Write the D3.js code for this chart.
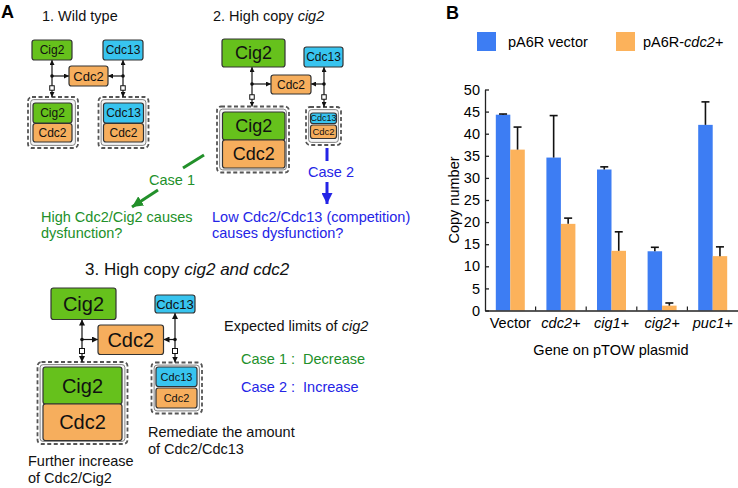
<!DOCTYPE html>
<html><head><meta charset="utf-8">
<script src="https://cdn.jsdelivr.net/npm/d3@7"></script>
<style>
body{margin:0;background:#fff}
svg{display:block;font-family:"Liberation Sans",Arial,Helvetica,sans-serif}
</style>
</head><body>
<svg id="c" width="738" height="488"></svg>
<script>
// ---------- Panel B data ----------
const categories = ["Vector", "cdc2+", "cig1+", "cig2+", "puc1+"];
const categoryItalic = [false, true, true, true, true];
const seriesKeys = ["vector", "cdc2"];
const vectorValues = [44.3, 34.6, 31.9, 13.4, 42.0];
const vectorErrors = [0.15, 9.5, 0.6, 0.9, 5.2];
const cdc2Values = [36.4, 19.6, 13.5, 1.1, 12.3];
const cdc2Errors = [5.1, 1.3, 4.3, 0.6, 2.1];
const yTickValues = [0, 5, 10, 15, 20, 25, 30, 35, 40, 45, 50];

const BLUE = "#3d7df3", ORANGE = "#fcb25b";
const GREEN_BOX = "#66c11c", CYAN_BOX = "#38c4ef", ORANGE_BOX = "#f6ae5d";
const GREEN_TXT = "#22902a", BLUE_TXT = "#2424e6";

const svg = d3.select("#c");

// markers
const defs = svg.append("defs");
function mk(id, size, color) {
  defs.append("marker").attr("id", id)
    .attr("viewBox", "0 0 10 10").attr("refX", 10).attr("refY", 5)
    .attr("markerWidth", size).attr("markerHeight", size)
    .attr("markerUnits", "userSpaceOnUse").attr("orient", "auto-start-reverse")
    .append("path").attr("d", "M0,0L10,5L0,10Z").attr("fill", color);
}
mk("ah", 5, "#111");
mk("ah6", 6, "#111");
mk("ahg", 11, GREEN_TXT);
mk("ahb", 11, BLUE_TXT);

// ---------- Panel B ----------
const gB = svg.append("g");
gB.append("text").attr("x", 446).attr("y", 19).attr("font-size", 18).attr("font-weight", "bold").text("B");

const x0 = d3.scaleBand().domain(categories).range([485, 738]);
const x1 = d3.scaleBand().domain(seriesKeys).range([0, x0.bandwidth()]).paddingOuter(0.745);
const y = d3.scaleLinear().domain([0, 50]).range([310.5, 89.5]);

const rows = categories.map((c, i) => ({
  cat: c,
  bars: [
    { key: "vector", v: vectorValues[i], e: vectorErrors[i], color: BLUE },
    { key: "cdc2", v: cdc2Values[i], e: cdc2Errors[i], color: ORANGE }
  ]
}));

const grp = gB.selectAll("g.grp").data(rows).join("g")
  .attr("transform", d => `translate(${x0(d.cat)},0)`);
grp.selectAll("rect").data(d => d.bars).join("rect")
  .attr("x", d => x1(d.key)).attr("width", x1.bandwidth())
  .attr("y", d => y(d.v)).attr("height", d => y(0) - y(d.v))
  .attr("fill", d => d.color);
// error bars (upper only)
const eb = grp.selectAll("g.eb").data(d => d.bars).join("g");
eb.append("line")
  .attr("x1", d => x1(d.key) + x1.bandwidth() / 2).attr("x2", d => x1(d.key) + x1.bandwidth() / 2)
  .attr("y1", d => y(d.v)).attr("y2", d => y(d.v + d.e))
  .attr("stroke", "#111").attr("stroke-width", 1.6);
eb.append("line")
  .attr("x1", d => x1(d.key) + x1.bandwidth() / 2 - 4).attr("x2", d => x1(d.key) + x1.bandwidth() / 2 + 4)
  .attr("y1", d => y(d.v + d.e)).attr("y2", d => y(d.v + d.e))
  .attr("stroke", "#111").attr("stroke-width", 1.6);

// y axis
const yAxis = gB.append("g").attr("transform", "translate(485,0)")
  .call(d3.axisLeft(y).tickValues(yTickValues).tickSizeInner(-4).tickSizeOuter(0).tickPadding(5));
yAxis.selectAll("text").attr("font-size", 14.5).attr("fill", "#000").attr("font-family", "Liberation Sans, Arial, sans-serif");
yAxis.selectAll("line,path").attr("stroke", "#222").attr("stroke-width", 1.3);

// x axis
const xAxis = gB.append("g").attr("transform", `translate(0,${y(0)})`)
  .call(d3.axisBottom(x0).tickSize(0).tickPadding(7));
xAxis.select("path").attr("stroke", "#222").attr("stroke-width", 1.3);
xAxis.selectAll("text").attr("font-size", 14.5).attr("fill", "#000")
  .attr("font-family", "Liberation Sans, Arial, sans-serif")
  .attr("font-style", (d, i) => categoryItalic[i] ? "italic" : "normal");
gB.selectAll("line.sep").data(categories.slice(1)).join("line")
  .attr("x1", d => x0(d)).attr("x2", d => x0(d))
  .attr("y1", y(0)).attr("y2", y(0) - 4)
  .attr("stroke", "#222").attr("stroke-width", 1.2);

gB.append("text").attr("transform", "translate(459,200) rotate(-90)")
  .attr("text-anchor", "middle").attr("font-size", 14.5).text("Copy number");
gB.append("text").attr("x", 611).attr("y", 355).attr("text-anchor", "middle")
  .attr("font-size", 14.5).text("Gene on pTOW plasmid");

// legend
gB.append("rect").attr("x", 477).attr("y", 32).attr("width", 19).attr("height", 19).attr("fill", BLUE);
gB.append("text").attr("x", 508).attr("y", 46.5).attr("font-size", 14.5).text("pA6R vector");
gB.append("rect").attr("x", 616).attr("y", 32).attr("width", 19).attr("height", 19).attr("fill", ORANGE);
const lt = gB.append("text").attr("x", 643).attr("y", 46.5).attr("font-size", 14.5);
lt.append("tspan").text("pA6R-");
lt.append("tspan").attr("font-style", "italic").text("cdc2+");

// ---------- Panel A (diagram) ----------
const gA = svg.append("g");
gA.append("text").attr("x", 1).attr("y", 18).attr("font-size", 18).attr("font-weight", "bold").text("A");

function box(x, yy, w, h, fill, label, fs) {
  gA.append("rect").attr("x", x).attr("y", yy).attr("width", w).attr("height", h)
    .attr("rx", 2.5).attr("fill", fill).attr("stroke", "#333").attr("stroke-width", 1.2);
  gA.append("text").attr("x", x + w / 2).attr("y", yy + h / 2).attr("dy", "0.36em")
    .attr("text-anchor", "middle").attr("font-size", fs).attr("fill", "#111").text(label);
}
function complex(x, yy, w, h) {
  gA.append("rect").attr("x", x).attr("y", yy).attr("width", w).attr("height", h)
    .attr("rx", 4).attr("fill", "#fff").attr("stroke", "#555").attr("stroke-width", 1.8)
    .attr("stroke-dasharray", "4,2.5");
  gA.append("rect").attr("x", x + 2.6).attr("y", yy + 2.6).attr("width", w - 5.2).attr("height", h - 5.2)
    .attr("rx", 3).attr("fill", "#f4f4f4").attr("stroke", "#666").attr("stroke-width", 0.8);
}
function connector(x, yTop, yBot, yH, edgeX, ySq, marker, sq) {
  gA.append("line").attr("x1", x).attr("x2", x).attr("y1", yTop).attr("y2", yBot)
    .attr("stroke", "#111").attr("stroke-width", 1.2)
    .attr("marker-start", `url(#${marker})`).attr("marker-end", `url(#${marker})`);
  gA.append("line").attr("x1", x).attr("x2", edgeX).attr("y1", yH).attr("y2", yH)
    .attr("stroke", "#111").attr("stroke-width", 1.2).attr("marker-end", `url(#${marker})`);
  gA.append("circle").attr("cx", x).attr("cy", yH).attr("r", 1.8).attr("fill", "#111");
  gA.append("rect").attr("x", x - sq / 2).attr("y", ySq - sq / 2).attr("width", sq).attr("height", sq)
    .attr("fill", "#fff").attr("stroke", "#111").attr("stroke-width", 1);
}
function txt(x, yy, parts, fs, color, anchor) {
  const t = gA.append("text").attr("x", x).attr("y", yy).attr("font-size", fs)
    .attr("fill", color || "#111").attr("text-anchor", anchor || "start")
    .style("white-space", "pre");
  parts.forEach(p => {
    const s = t.append("tspan").text(typeof p === "string" ? p : p.t);
    if (typeof p !== "string" && p.i) s.attr("font-style", "italic");
  });
}

// 1. Wild type
txt(42, 21, ["1. Wild type"], 14.5);
complex(28, 97, 50, 51);
complex(98.5, 97, 50, 51);
connector(52, 60, 97, 76, 69, 88, "ah", 4.5);
connector(123, 60, 97, 76, 108, 88, "ah", 4.5);
box(32, 40, 40, 20, GREEN_BOX, "Cig2", 12);
box(103, 40, 40, 20, CYAN_BOX, "Cdc13", 12);
box(69, 66, 39, 20, ORANGE_BOX, "Cdc2", 13);
box(33, 103, 39, 20, GREEN_BOX, "Cig2", 12);
box(33, 123.5, 39, 18.5, ORANGE_BOX, "Cdc2", 12);
box(103.5, 103, 40, 20, CYAN_BOX, "Cdc13", 12);
box(103.5, 123.5, 40, 18.5, ORANGE_BOX, "Cdc2", 12);

// 2. High copy cig2
txt(213, 21, ["2. High copy ", { t: "cig2", i: true }], 14.5);
complex(217, 106.5, 72, 66);
complex(306, 107, 35, 38);
connector(252, 67, 106.5, 84, 271, 97, "ah", 4.5);
connector(324, 67, 107, 84, 311, 97, "ah", 4.5);
box(222, 39, 63, 28, GREEN_BOX, "Cig2", 18);
box(304, 47, 39, 20, CYAN_BOX, "Cdc13", 12);
box(271, 75, 40, 19, ORANGE_BOX, "Cdc2", 12);
box(222.5, 112, 62.5, 28, GREEN_BOX, "Cig2", 18);
box(222.5, 140, 62.5, 28, ORANGE_BOX, "Cdc2", 18);
box(310.5, 113, 26, 10.5, CYAN_BOX, "Cdc13", 9);
box(310.5, 125, 26, 13.5, ORANGE_BOX, "Cdc2", 9.5);

// Case arrows
gA.append("line").attr("x1", 204).attr("y1", 155).attr("x2", 183).attr("y2", 168)
  .attr("stroke", GREEN_TXT).attr("stroke-width", 3);
gA.append("line").attr("x1", 158).attr("y1", 190).attr("x2", 132).attr("y2", 207)
  .attr("stroke", GREEN_TXT).attr("stroke-width", 3).attr("marker-end", "url(#ahg)");
txt(149, 185, ["Case 1"], 14.5, GREEN_TXT);
gA.append("line").attr("x1", 327).attr("y1", 148).attr("x2", 327).attr("y2", 161)
  .attr("stroke", BLUE_TXT).attr("stroke-width", 3);
gA.append("line").attr("x1", 327).attr("y1", 182).attr("x2", 327).attr("y2", 204)
  .attr("stroke", BLUE_TXT).attr("stroke-width", 3).attr("marker-end", "url(#ahb)");
txt(308, 177, ["Case 2"], 14.5, BLUE_TXT);
txt(41, 222, ["High Cdc2/Cig2 causes"], 14.5, GREEN_TXT);
txt(41, 238, ["dysfunction?"], 14.5, GREEN_TXT);
txt(212, 222, ["Low Cdc2/Cdc13 (competition)"], 14.5, BLUE_TXT);
txt(212, 238, ["causes dysfunction?"], 14.5, BLUE_TXT);

// 3. High copy cig2 and cdc2
txt(85, 275, ["3. High copy ", { t: "cig2 and cdc2", i: true }], 17);
complex(37.5, 362, 90, 82);
complex(151.5, 362.5, 50.5, 51);
connector(82, 319.5, 362, 339.5, 98, 351, "ah6", 5);
connector(175, 313, 362.5, 339.5, 163.5, 351, "ah6", 5);
box(51, 288, 65, 31.5, GREEN_BOX, "Cig2", 20);
box(155, 295, 40, 18, CYAN_BOX, "Cdc13", 13);
box(98, 325, 65.5, 29.5, ORANGE_BOX, "Cdc2", 20);
box(43, 367, 79, 37, GREEN_BOX, "Cig2", 20);
box(43, 404, 79, 36.5, ORANGE_BOX, "Cdc2", 20);
box(156, 367, 41, 19.5, CYAN_BOX, "Cdc13", 11);
box(156, 388, 41, 20, ORANGE_BOX, "Cdc2", 11);

txt(224, 331, ["Expected limits of ", { t: "cig2", i: true }], 14.5);
txt(241, 364, ["Case 1 :\u00a0\u00a0Decrease"], 14.5, GREEN_TXT);
txt(241, 392, ["Case 2 :\u00a0\u00a0Increase"], 14.5, BLUE_TXT);
txt(148, 437, ["Remediate the amount"], 14.5);
txt(148, 454, ["of Cdc2/Cdc13"], 14.5);
txt(28, 466, ["Further increase"], 14.5);
txt(28, 483, ["of Cdc2/Cig2"], 14.5);
</script>
</body></html>
